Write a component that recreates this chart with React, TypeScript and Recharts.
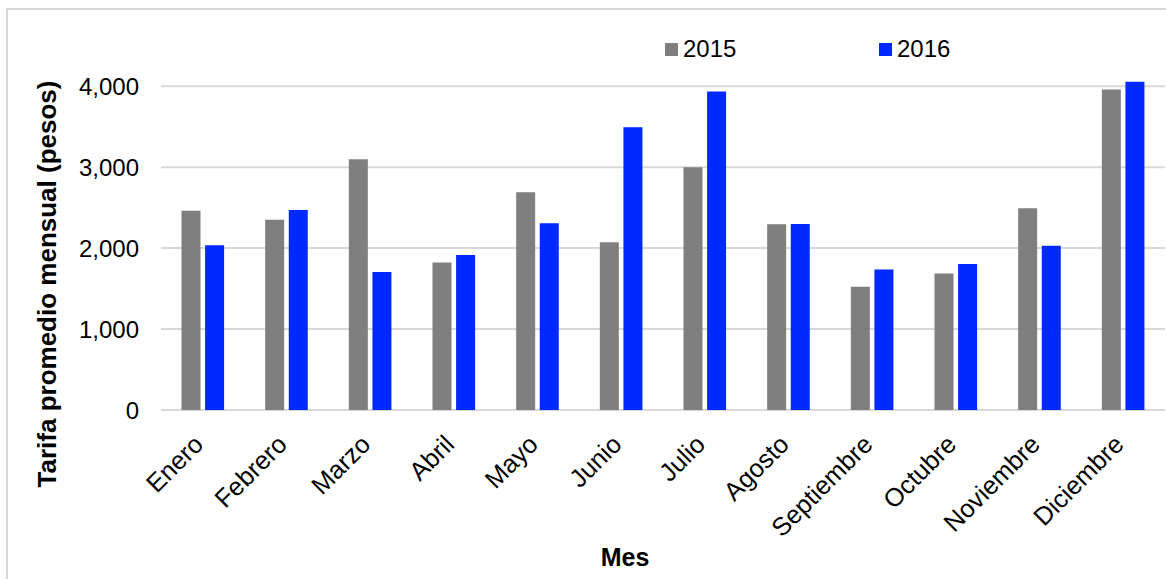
import React from 'react';
import { BarChart, Bar, XAxis, YAxis, CartesianGrid, Legend } from 'recharts';

const months = ['Enero', 'Febrero', 'Marzo', 'Abril', 'Mayo', 'Junio', 'Julio', 'Agosto', 'Septiembre', 'Octubre', 'Noviembre', 'Diciembre'];
const values2015 = [2460, 2349, 3099, 1821, 2691, 2073, 3000, 2295, 1524, 1686, 2492, 3959];
const values2016 = [2036, 2472, 1706, 1916, 2308, 3494, 3935, 2299, 1736, 1802, 2029, 4055];
const yTicks = [0, 1000, 2000, 3000, 4000];
const yDomain = [0, 4200];

const data = months.map((m, i) => ({ mes: m, y2015: values2015[i], y2016: values2016[i] }));

const FONT = '"Liberation Sans", Arial, sans-serif';

const XTick = (props: any) => {
  const { x, y, payload } = props;
  const ax = x + 2;
  const ay = y + 36;
  return (
    <text x={ax} y={ay} transform={`rotate(-45, ${ax}, ${ay})`} textAnchor="end" fill="#000" fontSize={25.5} fontFamily={FONT}>
      {payload.value}
    </text>
  );
};

const LegendContent = (props: any) => {
  const { payload } = props;
  return (
    <div style={{ display: 'flex', fontFamily: FONT, fontSize: 24, color: '#000' }}>
      {payload.map((p: any) => (
        <div key={p.value} style={{ width: 214, display: 'flex', alignItems: 'center' }}>
          <span style={{ display: 'inline-block', width: 13, height: 13, background: p.color, marginRight: 5 }} />
          <span>{p.value}</span>
        </div>
      ))}
    </div>
  );
};

export default function App() {
  return (
    <div style={{ position: 'absolute', left: 0, top: 0, width: 1166, height: 579 }}>
      <div style={{ position: 'absolute', left: 6, top: 8, width: 1160, height: 571, borderLeft: '2px solid #d9d9d9', borderTop: '2px solid #d9d9d9', boxSizing: 'border-box' }} />
      <div style={{ position: 'absolute', left: 0, top: 0 }}>
        <BarChart
          width={1166}
          height={579}
          data={data}
          margin={{ top: 70, right: 1, left: 0, bottom: 0 }}
          barCategoryGap="24.5%"
          barGap={4.6}
        >
          <CartesianGrid vertical={false} stroke="#d9d9d9" strokeWidth={2} syncWithTicks horizontalValues={yTicks} />
          <XAxis
            dataKey="mes"
            height={169}
            axisLine={false}
            tickLine={false}
            tickSize={0}
            tickMargin={0}
            interval={0}
            tick={<XTick />}
            label={{
              content: () => (
                <text x={625} y={566} textAnchor="middle" fontSize={25} fontWeight="bold" fontFamily={FONT} fill="#000">Mes</text>
              ),
            }}
          />
          <YAxis
            width={161}
            domain={yDomain}
            ticks={yTicks}
            allowDataOverflow
            axisLine={false}
            tickLine={false}
            tickSize={0}
            tickMargin={22}
            tickFormatter={(v: number) => v.toLocaleString('en-US')}
            tick={{ fill: '#000', fontSize: 24, fontFamily: FONT }}
            label={{
              content: () => (
                <text x={56} y={284} transform="rotate(-90, 56, 284)" textAnchor="middle" fontSize={26} fontWeight="bold" fontFamily={FONT} fill="#000">
                  Tarifa promedio mensual (pesos)
                </text>
              ),
            }}
          />
          <Legend
            layout="horizontal"
            verticalAlign="middle"
            align="center"
            content={<LegendContent />}
            wrapperStyle={{ position: 'absolute', left: 665, top: 35, width: 480, height: 30, bottom: 'auto', right: 'auto' }}
          />
          <Bar dataKey="y2015" name="2015" fill="#7f7f7f" isAnimationActive={false} />
          <Bar dataKey="y2016" name="2016" fill="#0029ff" isAnimationActive={false} />
        </BarChart>
      </div>
    </div>
  );
}
